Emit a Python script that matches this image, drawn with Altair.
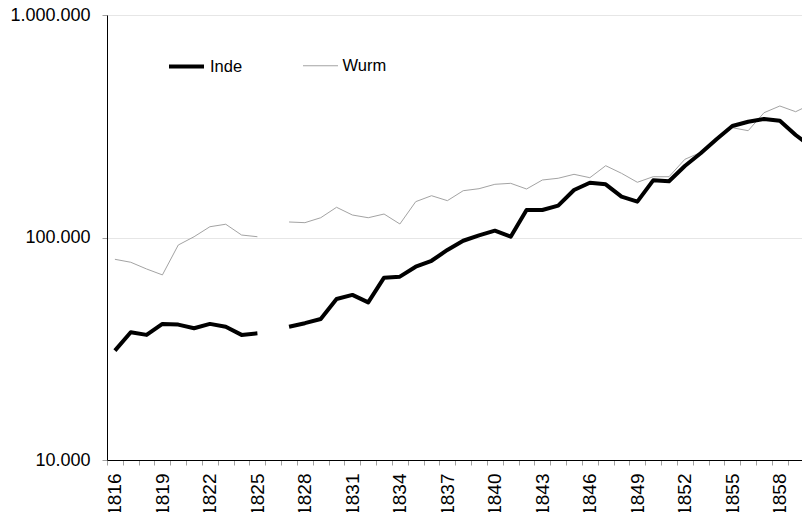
import altair as alt
import pandas as pd

years = list(range(1816, 1861))
inde = [31000, 37500, 36500, 40900, 40600, 39100, 40900, 39700, 36500, 37100,
        None,
        39700, 41200, 43000, 52900, 55200, 51100, 66000, 66700, 73900, 78600,
        87900, 96700, 102300, 107300, 100800, 132900, 132900, 139000, 163500, 176300,
        173400, 152600, 144900, 180700, 179100, 209600, 239000, 276300, 317000, 331400,
        340900, 334900, 288900, 255100]
wurm = [79800, 77400, 72200, 67900, 92500, 100800, 111800, 114700, 102600, 100800,
        None,
        117400, 116600, 122700, 136700, 126200, 122700, 127500, 115000, 144900, 154100,
        146400, 162300, 165700, 173400, 175200, 165200, 181300, 184600, 192300, 185700,
        210200, 194300, 177100, 187600, 187600, 224600, 241000, 274300, 311500, 302000,
        363800, 390000, 367600, 398000]

names = ["Inde", "Wurm"]
colors = ["#000000", "#a3a3a3"]
widths = [4, 1]
y_ticks = [10000, 100000, 1000000]
x_ticks = [1815.5 + 0.5 * i for i in range(89)]

rows = []
for name, vals in (("Inde", inde), ("Wurm", wurm)):
    for yr, v in zip(years, vals):
        if v is None:
            continue
        rows.append({"series": name, "year": yr, "value": v,
                     "segment": 1 if yr < 1826 else 2})
df = pd.DataFrame(rows)

FONT = "Liberation Sans"

leg = alt.Legend(
    title=None, orient="none", legendX=60, legendY=32, direction="horizontal",
    symbolType="stroke", symbolSize=1225, labelFontSize=16.5, labelFont=FONT,
    labelColor="#000000", labelOffset=4, columnPadding=57.5, padding=0,
)

x = alt.X(
    "year:Q",
    scale=alt.Scale(domain=[1815.5, 1859.4], nice=False, zero=False),
    axis=alt.Axis(
        title=None, values=x_ticks, grid=False,
        labelExpr="(datum.value % 1 == 0 && datum.value % 3 == 1) ? ('' + datum.value) : ''",
        labelAngle=270, labelFlush=False, labelOverlap=False,
        tickSize=5, tickColor="#a0a0a0",
        tickOpacity={"condition": {"test": "datum.value % 1 == 0", "value": 0}, "value": 1},
        domainColor="#000000", labelPadding=8, labelFontSize=19, labelFont=FONT,
        labelColor="#000000",
    ),
)
y = alt.Y(
    "value:Q",
    scale=alt.Scale(type="log", domain=[10000, 1000000], nice=False),
    axis=alt.Axis(
        title=None, values=y_ticks,
        labelExpr="replace(format(datum.value, ','), regexp(',', 'g'), '.')",
        grid=True, gridColor="#e6e6e6", domainColor="#000000",
        tickColor="#a0a0a0", tickSize=5, labelPadding=12, labelFontSize=18,
        labelFont=FONT, labelColor="#000000", labelFlush=False, labelOverlap=False,
    ),
)
color = alt.Color("series:N", scale=alt.Scale(domain=names, range=colors), legend=leg)
sw = alt.StrokeWidth("series:N", scale=alt.Scale(domain=names, range=widths), legend=leg)

base = alt.Chart(df)
layer_w = base.transform_filter(alt.datum.series == "Wurm").mark_line(
    clip=True, strokeJoin="round").encode(x=x, y=y, color=color, strokeWidth=sw,
                                           detail="segment:N")
layer_i = base.transform_filter(alt.datum.series == "Inde").mark_line(
    clip=True, strokeJoin="round").encode(x=x, y=y, color=color, strokeWidth=sw,
                                           detail="segment:N")

chart = alt.layer(layer_w, layer_i).properties(
    width=695, height=445,
    autosize=alt.AutoSizeParams(type="none"),
    padding={"left": 99, "top": 7, "right": 0, "bottom": 52},
).configure_view(stroke=None).configure(background="#ffffff")

chart.save("out.html", embed_options={"renderer": "svg", "actions": False})
